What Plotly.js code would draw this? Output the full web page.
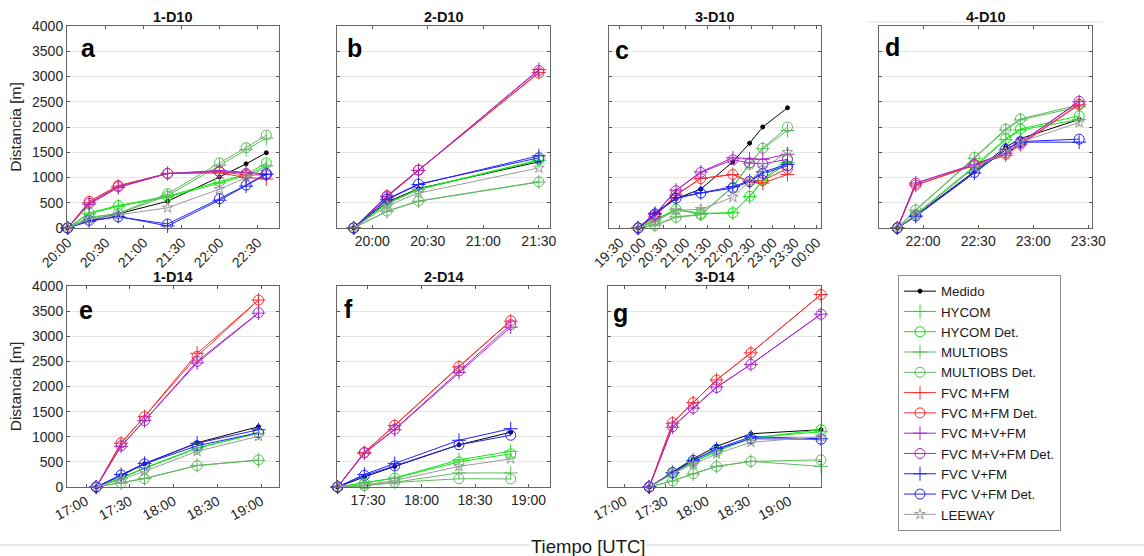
<!DOCTYPE html>
<html><head><meta charset="utf-8">
<script src="https://cdn.plot.ly/plotly-3.0.1.min.js"></script>
<style>html,body{margin:0;padding:0;background:#fff}#chart{width:1144px;height:556px}</style>
</head><body><div id="chart"></div>
<script>
const DAY = '2020-01-01 ', DAY2 = '2020-01-02 ';
const seriesNames = ['Medido','HYCOM','HYCOM Det.','MULTIOBS','MULTIOBS Det.','FVC M+FM','FVC M+FM Det.','FVC M+V+FM','FVC M+V+FM Det.','FVC V+FM','FVC V+FM Det.','LEEWAY'];
const panelTitles = ['1-D10','2-D10','3-D10','4-D10','1-D14','2-D14','3-D14'];
const panelLetters = ['a','b','c','d','e','f','g'];
const yTicks = [0,500,1000,1500,2000,2500,3000,3500,4000];

// Panel a (1-D10)
const aTimes = ['20:00','20:17','20:40','21:19','22:00','22:21','22:37'];
const aMedido = [0,150,280,530,1010,1270,1490];
const aHycom = [0,280,430,610,890,1040,1230];
const aHycomDet = [0,300,445,630,920,1060,1290];
const aMulti = [0,200,280,640,1240,1550,1780];
const aMultiDet = [0,210,290,680,1290,1590,1840];
const aMFM = [0,500,830,1080,1090,1000,970];
const aMFMDet = [0,530,840,1080,1110,1050,1050];
const aMVFM = [0,470,800,1080,1140,1100,1070];
const aMVFMDet = [0,490,820,1080,1120,1080,1060];
const aVFM = [0,130,230,40,550,830,1060];
const aVFMDet = [0,150,220,80,580,850,1080];
const aLeeway = [0,170,260,400,770,1000,1200];

// Panel b (2-D10)
const bTimes = ['19:50','20:08','20:25','21:30'];
const bMedido = [0,515,780,1310];
const bHycom = [0,480,760,1340];
const bHycomDet = [0,490,770,1350];
const bMulti = [0,330,530,910];
const bMultiDet = [0,335,535,915];
const bMFM = [0,630,1140,3080];
const bMFMDet = [0,640,1150,3070];
const bMVFM = [0,615,1140,3140];
const bMVFMDet = [0,620,1145,3120];
const bVFM = [0,560,860,1430];
const bVFMDet = [0,575,870,1390];
const bLeeway = [0,440,690,1190];

// Panel c (3-D10)
const cTimes = ['19:55','20:18','20:47','21:21','22:05','22:28','22:46','23:20'];
const cMedido = [0,280,580,770,1310,1680,2000,2380];
const cHycom = [0,150,360,280,300,620,940,1300];
const cHycomDet = [0,160,370,290,300,630,950,1370];
const cMulti = [0,60,220,270,820,1280,1570,1930];
const cMultiDet = [0,50,210,260,810,1260,1580,2000];
const cMFM = [0,220,650,980,1060,910,890,1060];
const cMFMDet = [0,230,660,980,1060,920,940,1180];
const cMVFM = [0,270,750,1110,1390,1370,1360,1460];
const cMVFMDet = [0,260,740,1100,1350,1290,1270,1360];
const cVFM = [0,290,600,700,820,930,1110,1260];
const cVFMDet = [0,280,590,690,790,920,1080,1230];
const cLeeway = [0,120,350,370,610,920,1180,1500];

// Panel d (4-D10)
const dTimes = ['21:46','21:56','22:28','22:45','22:53','23:25'];
const dMedido = [0,250,1120,1600,1770,2150];
const dHycom = [0,250,1200,1750,1940,2150];
const dHycomDet = [0,270,1230,1770,1960,2220];
const dMulti = [0,350,1380,1940,2140,2400];
const dMultiDet = [0,360,1400,1960,2160,2440];
const dMFM = [0,850,1240,1440,1650,2440];
const dMFMDet = [0,850,1250,1460,1660,2450];
const dMVFM = [0,890,1260,1480,1680,2500];
const dMVFMDet = [0,890,1260,1490,1690,2510];
const dVFM = [0,230,1090,1550,1700,1700];
const dVFMDet = [0,240,1100,1560,1710,1760];
const dLeeway = [0,260,1200,1500,1700,2090];

// Panel e (1-D14)
const eTimes = ['17:07','17:24','17:40','18:16','18:58'];
const eMedido = [0,225,460,880,1200];
const eHycom = [0,180,380,780,1070];
const eHycomDet = [0,175,370,770,1080];
const eMulti = [0,80,170,430,530];
const eMultiDet = [0,80,165,425,540];
const eMFM = [0,870,1400,2660,3720];
const eMFMDet = [0,880,1400,2600,3720];
const eMVFM = [0,810,1320,2470,3460];
const eMVFMDet = [0,820,1320,2500,3470];
const eVFM = [0,250,470,870,1140];
const eVFMDet = [0,240,460,820,1080];
const eLeeway = [0,150,310,710,1010];

// Panel f (2-D14)
const fTimes = ['17:13','17:28','17:45','18:21','18:50'];
const fMedido = [0,200,410,840,1090];
const fHycom = [0,80,180,540,710];
const fHycomDet = [0,75,175,500,660];
const fMulti = [0,30,95,280,280];
const fMultiDet = [0,25,90,165,160];
const fMFM = [0,690,1220,2390,3300];
const fMFMDet = [0,690,1230,2400,3310];
const fMVFM = [0,670,1140,2280,3180];
const fMVFMDet = [0,680,1150,2310,3230];
const fVFM = [0,250,470,930,1160];
const fVFMDet = [0,230,420,840,1030];
const fLeeway = [0,40,130,410,560];

// Panel g (3-D14)
const gTimes = ['17:18','17:35','17:50','18:07','18:32','19:23'];
const gMedido = [0,300,560,810,1060,1140];
const gHycom = [0,260,500,720,980,1100];
const gHycomDet = [0,270,490,710,970,1140];
const gMulti = [0,120,260,410,510,410];
const gMultiDet = [0,120,265,410,510,540];
const gMFM = [0,1270,1680,2130,2670,3830];
const gMFMDet = [0,1280,1680,2130,2670,3830];
const gMVFM = [0,1190,1570,1990,2440,3440];
const gMVFMDet = [0,1200,1570,1980,2440,3440];
const gVFM = [0,290,530,760,1000,960];
const gVFMDet = [0,290,530,750,960,950];
const gLeeway = [0,270,450,660,890,1000];

const panelData = [
  [aTimes,[aMedido,aHycom,aHycomDet,aMulti,aMultiDet,aMFM,aMFMDet,aMVFM,aMVFMDet,aVFM,aVFMDet,aLeeway]],
  [bTimes,[bMedido,bHycom,bHycomDet,bMulti,bMultiDet,bMFM,bMFMDet,bMVFM,bMVFMDet,bVFM,bVFMDet,bLeeway]],
  [cTimes,[cMedido,cHycom,cHycomDet,cMulti,cMultiDet,cMFM,cMFMDet,cMVFM,cMVFMDet,cVFM,cVFMDet,cLeeway]],
  [dTimes,[dMedido,dHycom,dHycomDet,dMulti,dMultiDet,dMFM,dMFMDet,dMVFM,dMVFMDet,dVFM,dVFMDet,dLeeway]],
  [eTimes,[eMedido,eHycom,eHycomDet,eMulti,eMultiDet,eMFM,eMFMDet,eMVFM,eMVFMDet,eVFM,eVFMDet,eLeeway]],
  [fTimes,[fMedido,fHycom,fHycomDet,fMulti,fMultiDet,fMFM,fMFMDet,fMVFM,fMVFMDet,fVFM,fVFMDet,fLeeway]],
  [gTimes,[gMedido,gHycom,gHycomDet,gMulti,gMultiDet,gMFM,gMFMDet,gMVFM,gMVFMDet,gVFM,gVFMDet,gLeeway]]
];

// ---- styling / layout ----
const W = 1144, H = 556;
const fx = p => p / W, fy = p => 1 - p / H;
const FONT = 'Liberation Sans, Arial, sans-serif';
const styles = [
  {color:'#000000', symbol:'circle', size:4},
  {color:'rgb(20,230,20)', symbol:'cross-thin-open', size:10},
  {color:'rgb(20,230,20)', symbol:'circle-open', size:10},
  {color:'rgb(95,185,95)', symbol:'cross-thin-open', size:10},
  {color:'rgb(95,185,95)', symbol:'circle-open', size:10},
  {color:'rgb(255,45,45)', symbol:'cross-thin-open', size:10},
  {color:'rgb(255,45,45)', symbol:'circle-open', size:10},
  {color:'rgb(170,40,200)', symbol:'cross-thin-open', size:10},
  {color:'rgb(170,40,200)', symbol:'circle-open', size:10},
  {color:'rgb(35,35,255)', symbol:'cross-thin-open', size:10},
  {color:'rgb(35,35,255)', symbol:'circle-open', size:10},
  {color:'rgb(155,155,155)', symbol:'star-open', size:8}
];
const boxes = [[67,279,26,228],[337,550,26,228],[609,821,26,228],[879,1092,26,228],
               [67,279,286,487],[337,550,286,487],[608,821,286,487]];
const xRanges = [[DAY+'19:59:30',DAY+'22:47'],[DAY+'19:41',DAY+'21:36'],[DAY+'19:15',DAY2+'00:06'],
                 [DAY+'21:36',DAY+'23:32'],[DAY+'16:47',DAY+'19:12'],[DAY+'17:12:40',DAY+'19:12'],[DAY+'16:48',DAY+'19:23']];
const tickAngles = [-45,0,-45,0,-28,0,-28];
const letterPos = [[88,48],[354,48],[622,50],[892,47],[86,310],[348,309],[620,313]];

const traces = [];
const layout = {
  width: W, height: H, margin:{l:0,r:0,t:0,b:0},
  paper_bgcolor:'#fff', plot_bgcolor:'#fff',
  font:{family:FONT, color:'#262626', size:14},
  showlegend:true,
  legend:{x:fx(898), y:fy(275), xanchor:'left', yanchor:'top', bgcolor:'#fff',
          bordercolor:'#8c8c8c', borderwidth:1, font:{size:13.3, family:FONT, color:'#1a1a1a'},
          tracegroupgap:0, itemwidth:32},
  annotations:[], shapes:[]
};

panelData.forEach((pd, p) => {
  const suf = p === 0 ? '' : String(p + 1);
  const [times, series] = pd;
  const xs = times.map(t => DAY + t);
  series.forEach((ys, k) => {
    const st = styles[k];
    traces.push({
      type:'scatter', mode:'lines+markers', x: xs, y: ys,
      xaxis:'x'+suf, yaxis:'y'+suf, name: seriesNames[k], legendgroup: seriesNames[k],
      showlegend: p === 0, cliponaxis:false, hoverinfo:'skip',
      line:{color: st.color, width:1},
      marker:{symbol: st.symbol, size: st.size, color: st.color, line:{color: st.color, width:1}}
    });
  });
  const [l, r, t, b] = boxes[p];
  layout['xaxis'+suf] = {
    domain:[fx(l), fx(r)], anchor:'y'+suf, type:'date', range: xRanges[p],
    tickformat:'%H:%M', tick0: DAY+'00:00', dtick: 1800000, tickangle: tickAngles[p],
    ticks:'inside', ticklen:3, tickcolor:'#555', showline:true, linecolor:'#666', linewidth:1,
    mirror:'ticks', showgrid:false, zeroline:false, tickfont:{size:14, family:FONT, color:'#262626'}
  };
  const showY = (p === 0 || p === 4);
  layout['yaxis'+suf] = {
    domain:[fy(b), fy(t)], anchor:'x'+suf, range:[0,4000], tickvals: yTicks,
    ticks:'inside', ticklen:3, tickcolor:'#555', showline:true, linecolor:'#666', linewidth:1,
    mirror:'ticks', showgrid:true, gridcolor:'#e6e6e6', zeroline:false,
    showticklabels: showY, tickfont:{size:14, family:FONT, color:'#262626'},
    title: showY ? {text:'Distancia [m]', font:{size:15.5, family:FONT, color:'#262626'}, standoff:6} : undefined
  };
  layout.annotations.push({
    xref:'paper', yref:'paper', x: fx((l + r) / 2), y: fy(t - 9), xanchor:'center', yanchor:'middle',
    text:'<b>' + panelTitles[p] + '</b>', showarrow:false, font:{size:14.5, family:FONT, color:'#111'}
  });
  layout.annotations.push({
    xref:'paper', yref:'paper', x: fx(letterPos[p][0]), y: fy(letterPos[p][1]), xanchor:'center', yanchor:'middle',
    text:'<b>' + panelLetters[p] + '</b>', showarrow:false, font:{size:25, family:FONT, color:'#000'}
  });
});

layout.shapes.push({type:'line', xref:'paper', yref:'paper', x0:0, x1:1, y0:fy(545), y1:fy(545), line:{color:'#cfcfcf', width:1}, layer:'below'});
layout.shapes.push({type:'line', xref:'paper', yref:'paper', x0:fx(868), x1:fx(1103), y0:fy(22), y1:fy(22), line:{color:'#e0e0e0', width:1}, layer:'below'});
layout.annotations.push({
  xref:'paper', yref:'paper', x: fx(588), y: fy(546), xanchor:'center', yanchor:'middle',
  text:'Tiempo [UTC]', showarrow:false, bgcolor:'#fff', font:{size:18.5, family:FONT, color:'#1a1a1a'}
});

Plotly.newPlot('chart', traces, layout, {staticPlot:true, displayModeBar:false});
</script>
</body></html>
